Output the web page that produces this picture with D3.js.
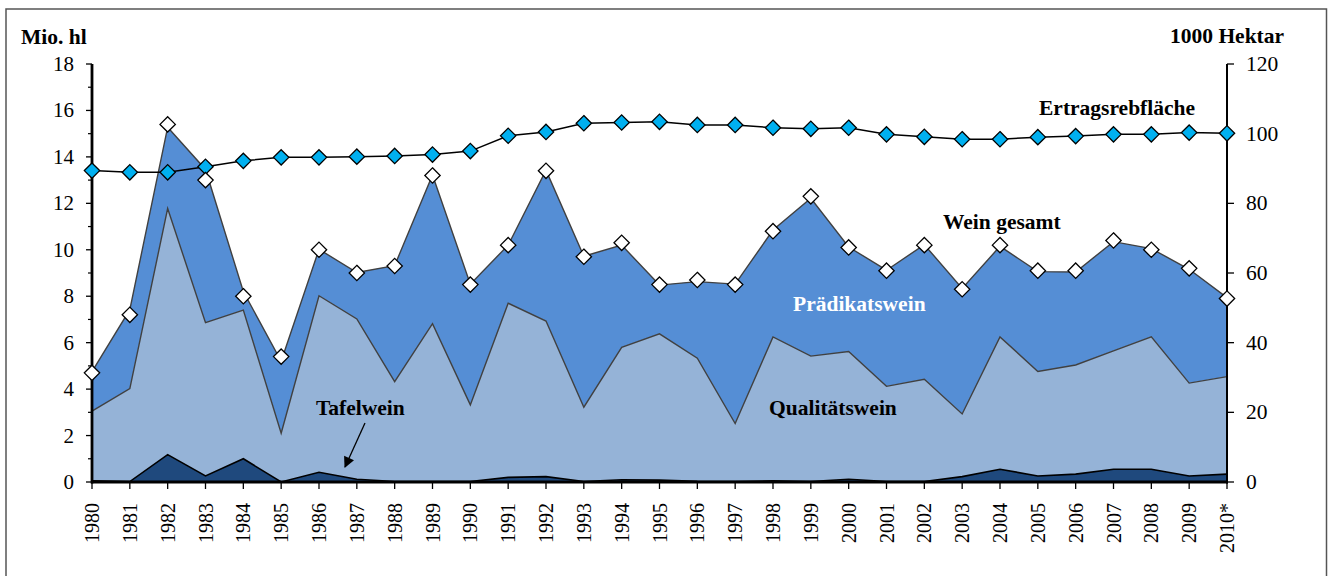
<!DOCTYPE html>
<html>
<head>
<meta charset="utf-8">
<script src="https://cdn.jsdelivr.net/npm/d3@7"></script>
<style>
  body { margin: 0; background: #fff; }
  svg { display: block; font-family: "Liberation Serif", "Times New Roman", serif; }
</style>
</head>
<body>
<svg id="chart" width="1328" height="576"></svg>
<script>
// Jahre (Kategorien)
const years = ["1980","1981","1982","1983","1984","1985","1986","1987","1988","1989",
  "1990","1991","1992","1993","1994","1995","1996","1997","1998","1999",
  "2000","2001","2002","2003","2004","2005","2006","2007","2008","2009","2010*"];

// Weinmost in Mio. hl (gestapelte Flächen)
const tafelwein = [0.05,0.02,1.18,0.26,1.0,0,0.42,0.12,0.02,0.02,
  0.02,0.2,0.23,0.02,0.1,0.08,0.03,0.02,0.05,0.02,
  0.12,0.02,0.02,0.23,0.55,0.26,0.34,0.55,0.55,0.26,0.34];
const qualitaetswein = [3.0,4.0,10.6,6.6,6.4,2.1,7.6,6.9,4.3,6.8,
  3.3,7.5,6.7,3.2,5.7,6.3,5.3,2.5,6.2,5.4,
  5.5,4.1,4.4,2.7,5.7,4.5,4.7,5.1,5.7,4.0,4.2];
const praedikatswein = [1.7,3.4,3.5,6.6,0.8,3.1,2.0,2.0,5.0,6.4,
  5.2,2.5,6.5,6.5,4.4,2.1,3.3,6.0,4.6,6.8,
  4.5,5.0,5.8,5.4,3.9,4.3,4.0,4.7,3.8,4.9,3.4];

// Wein gesamt (Marker) in Mio. hl
const weinGesamt = [4.7,7.2,15.4,13.0,8.0,5.4,10.0,9.0,9.3,13.2,
  8.5,10.2,13.4,9.7,10.3,8.5,8.7,8.5,10.8,12.3,
  10.1,9.1,10.2,8.3,10.2,9.1,9.1,10.4,10.0,9.2,7.9];

// Ertragsrebfläche in 1000 Hektar (rechte Achse)
const rebflaeche = [89.4,88.9,88.9,90.5,92.2,93.2,93.2,93.4,93.6,94.0,
  95.0,99.4,100.5,103.0,103.2,103.4,102.5,102.5,101.7,101.4,
  101.7,99.8,99.1,98.4,98.4,99.0,99.3,99.8,99.8,100.3,100.1];

const leftTicks = [0,2,4,6,8,10,12,14,16,18];
const rightTicks = [0,20,40,60,80,100,120];

const svg = d3.select("#chart");
const pLeft = 92, pRight = 1227, pTop = 64, pBottom = 482;

const x = d3.scalePoint().domain(years).range([pLeft, pRight]);
const yL = d3.scaleLinear().domain([0, 18]).range([pBottom, pTop]);
const yR = d3.scaleLinear().domain([0, 120]).range([pBottom, pTop]);

// Rahmen
svg.append("rect")
  .attr("x", 6).attr("y", 9)
  .attr("width", 1320.5).attr("height", 600)
  .attr("fill", "none")
  .attr("stroke", "#555").attr("stroke-width", 1.5);

// Daten für Stapel
const rows = years.map((yr, i) => ({
  year: yr,
  tafel: tafelwein[i],
  qual: qualitaetswein[i],
  praed: praedikatswein[i]
}));
const keys = ["tafel", "qual", "praed"];
const colors = { tafel: "#1f497d", qual: "#95b3d7", praed: "#558ed5" };
const stack = d3.stack().keys(keys)(rows);

const area = d3.area()
  .x(d => x(d.data.year))
  .y0(d => yL(d[0]))
  .y1(d => yL(d[1]));

// oberste Fläche zuerst zeichnen, damit Umrisse sichtbar bleiben
stack.slice().reverse().forEach(s => {
  svg.append("path")
    .datum(s)
    .attr("d", area)
    .attr("fill", colors[s.key]);
});
stack.forEach(s => {
  svg.append("path")
    .datum(s)
    .attr("d", d3.line().x(d => x(d.data.year)).y(d => yL(d[1])))
    .attr("fill", "none")
    .attr("stroke", s.key === "tafel" ? "#000" : "#404040")
    .attr("stroke-width", s.key === "tafel" ? 1.6 : 1.4);
});

// X-Achse
const xAxis = svg.append("g");
xAxis.append("line")
  .attr("x1", pLeft - 1).attr("x2", pRight + 1)
  .attr("y1", pBottom).attr("y2", pBottom)
  .attr("stroke", "#000").attr("stroke-width", 3);
xAxis.selectAll(".xt")
  .data(years)
  .enter().append("line")
  .attr("x1", d => x(d)).attr("x2", d => x(d))
  .attr("y1", pBottom).attr("y2", pBottom + 7)
  .attr("stroke", "#000").attr("stroke-width", 1.3);
xAxis.selectAll(".xl")
  .data(years)
  .enter().append("text")
  .attr("transform", d => `translate(${x(d) + 7},${pBottom + 21}) rotate(-90)`)
  .attr("text-anchor", "end")
  .style("font-size", "20px")
  .text(d => d);

// Linke Achse
const gL = svg.append("g");
gL.append("line")
  .attr("x1", pLeft).attr("x2", pLeft)
  .attr("y1", pTop).attr("y2", pBottom + 1.5)
  .attr("stroke", "#000").attr("stroke-width", 2.8);
gL.selectAll(".minor")
  .data(d3.range(1, 18, 2))
  .enter().append("line")
  .attr("x1", pLeft - 4).attr("x2", pLeft)
  .attr("y1", d => yL(d)).attr("y2", d => yL(d))
  .attr("stroke", "#000").attr("stroke-width", 1.2);
gL.selectAll(".major")
  .data(leftTicks)
  .enter().append("line")
  .attr("x1", pLeft - 6).attr("x2", pLeft)
  .attr("y1", d => yL(d)).attr("y2", d => yL(d))
  .attr("stroke", "#000").attr("stroke-width", 1.3);
gL.selectAll(".lbl")
  .data(leftTicks)
  .enter().append("text")
  .attr("x", 74).attr("y", d => yL(d) + 7)
  .attr("text-anchor", "end")
  .style("font-size", "21px")
  .text(d => d);

// Rechte Achse
const gR = svg.append("g");
gR.append("line")
  .attr("x1", pRight).attr("x2", pRight)
  .attr("y1", pTop).attr("y2", pBottom + 1.5)
  .attr("stroke", "#000").attr("stroke-width", 2);
gR.selectAll(".major")
  .data(rightTicks)
  .enter().append("line")
  .attr("x1", pRight).attr("x2", pRight + 7)
  .attr("y1", d => yR(d)).attr("y2", d => yR(d))
  .attr("stroke", "#000").attr("stroke-width", 1.3);
gR.selectAll(".lbl")
  .data(rightTicks)
  .enter().append("text")
  .attr("x", 1246).attr("y", d => yR(d) + 7)
  .style("font-size", "21.5px")
  .text(d => d);

// Diamant-Symbol
const diamond = d3.symbol().type(d3.symbolDiamond2).size(150);

// Ertragsrebfläche
svg.append("path")
  .datum(rebflaeche)
  .attr("d", d3.line().x((d, i) => x(years[i])).y(d => yR(d)))
  .attr("fill", "none")
  .attr("stroke", "#000").attr("stroke-width", 1.5);
svg.selectAll(".reb")
  .data(rebflaeche)
  .enter().append("path")
  .attr("transform", (d, i) => `translate(${x(years[i])},${yR(d)})`)
  .attr("d", diamond)
  .attr("fill", "#00b0f0")
  .attr("stroke", "#000").attr("stroke-width", 1.3);

// Wein gesamt
svg.selectAll(".ges")
  .data(weinGesamt)
  .enter().append("path")
  .attr("transform", (d, i) => `translate(${x(years[i])},${yL(d)})`)
  .attr("d", diamond)
  .attr("fill", "#fff")
  .attr("stroke", "#000").attr("stroke-width", 1.3);

// Beschriftungen
const labels = [
  { t: "Mio. hl", x: 21, y: 44, c: "#000" },
  { t: "1000 Hektar", x: 1170, y: 43, c: "#000" },
  { t: "Ertragsrebfläche", x: 1039, y: 115, c: "#000" },
  { t: "Wein gesamt", x: 943, y: 229, c: "#000" },
  { t: "Prädikatswein", x: 793, y: 311, c: "#fff" },
  { t: "Qualitätswein", x: 769, y: 415, c: "#000" },
  { t: "Tafelwein", x: 316, y: 415, c: "#000" }
];
svg.selectAll(".lab")
  .data(labels)
  .enter().append("text")
  .attr("x", d => d.x).attr("y", d => d.y)
  .attr("fill", d => d.c)
  .style("font-size", "21.5px")
  .style("font-weight", "bold")
  .text(d => d.t);

// Pfeil zu Tafelwein
svg.append("defs").append("marker")
  .attr("id", "arrow")
  .attr("viewBox", "0 0 10 10")
  .attr("refX", 9).attr("refY", 5)
  .attr("markerWidth", 12).attr("markerHeight", 11)
  .attr("markerUnits", "userSpaceOnUse")
  .attr("orient", "auto")
  .append("path")
  .attr("d", "M0,0 L10,5 L0,10 Z")
  .attr("fill", "#000");
svg.append("line")
  .attr("x1", 365).attr("y1", 423)
  .attr("x2", 345).attr("y2", 467)
  .attr("stroke", "#000").attr("stroke-width", 1.3)
  .attr("marker-end", "url(#arrow)");
</script>
</body>
</html>
